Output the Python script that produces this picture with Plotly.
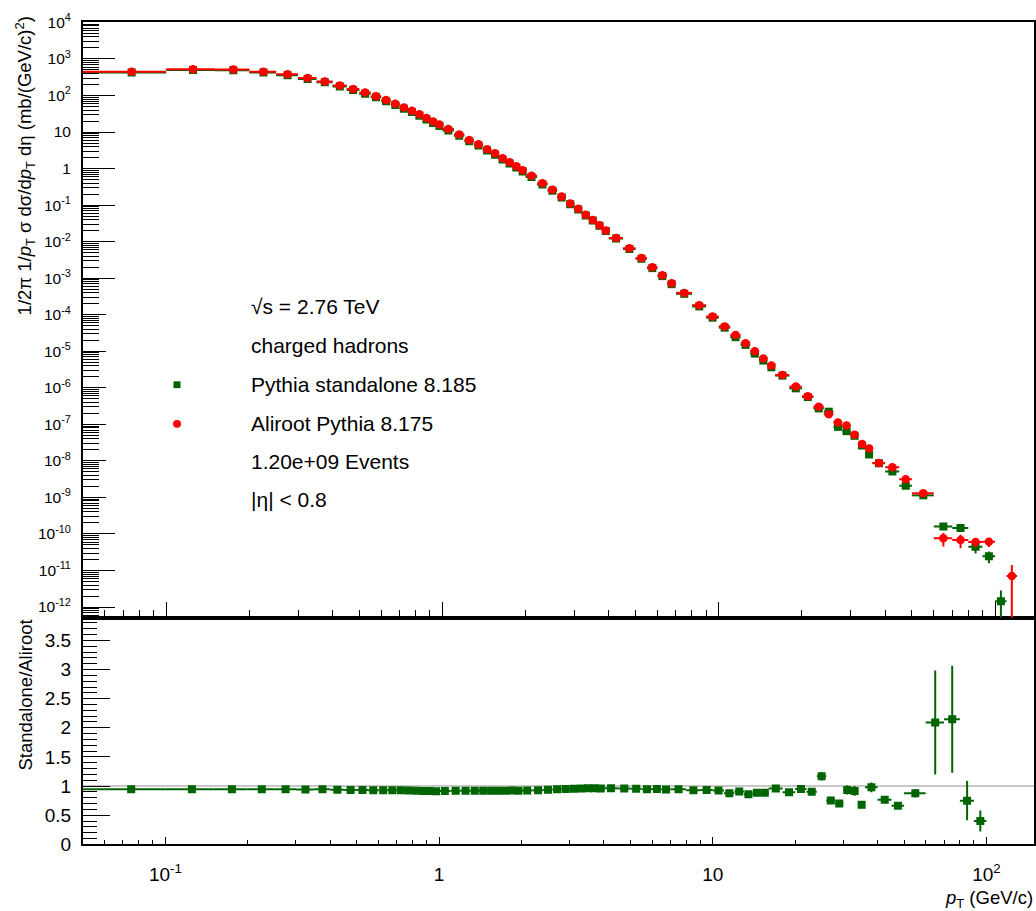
import math
import plotly.graph_objects as go

# ---------------- data ----------------
pt_edges = [0.05, 0.1, 0.15, 0.2, 0.25, 0.3, 0.35, 0.4, 0.45, 0.5, 0.55, 0.6, 0.65, 0.7, 0.75,
            0.8, 0.85, 0.9, 0.95, 1.0,
            1.1, 1.2, 1.3, 1.4, 1.5, 1.6, 1.7, 1.8, 1.9, 2.0,
            2.2, 2.4, 2.6, 2.8, 3.0, 3.2, 3.4, 3.6, 3.8, 4.0,
            4.5, 5.0, 5.5, 6.0, 6.5, 7.0, 8.0, 9.0, 10.0,
            11, 12, 13, 14, 15, 16, 18, 20, 22, 24, 26, 28, 30, 32, 34, 36, 40, 45, 50,
            60, 70, 80, 90, 100, 110, 120]

aliroot = [448, 525, 517, 448, 380, 302, 242, 189, 151, 120, 96, 75, 59, 47, 38, 30.5, 24.2, 19.4, 16.0,
           12.1, 8.55, 6.05, 4.62, 3.40, 2.61, 1.92, 1.50, 1.15, 0.90,
           0.634, 0.395, 0.264, 0.171, 0.111, 0.080, 0.0542, 0.0392, 0.0281, 0.0203,
           0.01264, 0.00658, 0.00356, 0.0020, 0.0012, 7.3e-4, 3.96e-4, 1.82e-4, 8.9e-5,
           4.8e-5, 2.77e-5, 1.65e-5, 1.0e-5, 6.3e-6, 4.1e-6, 2.25e-6, 1.08e-6, 5.86e-7, 3.03e-7,
           1.9e-7, 1.13e-7, 9.3e-8, 5.2e-8, 2.88e-8, 2.2e-8, 8.8e-9, 6.7e-9, 3.15e-9,
           1.3e-9, 7.6e-11, 6.8e-11, 6.0e-11, 6.1e-11, None, 7.1e-12]

standalone = [423, 496, 489, 423, 359, 285, 229, 177, 141, 112, 89.3, 69.8, 54.9, 43.7, 35.2, 28.1, 22.2, 17.8, 14.6,
              11.1, 7.87, 5.57, 4.26, 3.13, 2.40, 1.77, 1.38, 1.064, 0.830,
              0.586, 0.367, 0.248, 0.1616, 0.1055, 0.0764, 0.0520, 0.0377, 0.0271, 0.0195,
              0.01216, 0.00630, 0.00340, 0.00189, 0.00114, 6.86e-4, 3.74e-4, 1.69e-4, 8.31e-5,
              4.43e-5, 2.43e-5, 1.495e-5, 8.61e-6, 5.57e-6, 3.64e-6, 2.16e-6, 9.67e-7, 5.57e-7, 2.73e-7,
              2.22e-7, 8.53e-8, 6.51e-8, 4.86e-8, 2.64e-8, 1.50e-8, 8.62e-9, 5.13e-9, 2.09e-9,
              1.14e-9, 1.59e-10, 1.46e-10, 4.5e-11, 2.44e-11, 1.45e-12, None]

aliroot_relerr = [0.003] * 19 + [0.003] * 10 + [0.004] * 10 + \
                 [0.005, 0.006, 0.007, 0.008, 0.01, 0.012, 0.012, 0.015, 0.018] + \
                 [0.02, 0.022, 0.025, 0.028, 0.03, 0.032, 0.025, 0.03, 0.035, 0.04,
                  0.045, 0.05, 0.055, 0.06, 0.065, 0.065, 0.06, 0.05, 0.05] + \
                 [0.06, 0.4, 0.4, 0.28, 0.28, None, 0.999]

standalone_relerr = [0.003] * 19 + [0.003] * 10 + [0.004] * 10 + \
                    [0.005, 0.006, 0.007, 0.008, 0.01, 0.012, 0.012, 0.015, 0.018] + \
                    [0.02, 0.022, 0.025, 0.028, 0.03, 0.032, 0.025, 0.03, 0.035, 0.04,
                     0.045, 0.05, 0.055, 0.06, 0.065, 0.065, 0.06, 0.05, 0.05] + \
                    [0.06, 0.15, 0.15, 0.35, 0.35, 0.97, None]

y_top_ticks = [1e4, 1e3, 1e2, 10, 1, 1e-1, 1e-2, 1e-3, 1e-4, 1e-5, 1e-6, 1e-7, 1e-8, 1e-9, 1e-10, 1e-11, 1e-12]
y_top_labels = ["10<sup>4</sup>", "10<sup>3</sup>", "10<sup>2</sup>", "10", "1", "10<sup>-1</sup>",
                "10<sup>-2</sup>", "10<sup>-3</sup>", "10<sup>-4</sup>", "10<sup>-5</sup>", "10<sup>-6</sup>",
                "10<sup>-7</sup>", "10<sup>-8</sup>", "10<sup>-9</sup>", "10<sup>-10</sup>", "10<sup>-11</sup>",
                "10<sup>-12</sup>"]
x_ticks = [0.1, 1, 10, 100]
x_labels = ["10<sup>-1</sup>", "1", "10", "10<sup>2</sup>"]

# ---------------- derived ----------------
centers = [(lo + hi) / 2 for lo, hi in zip(pt_edges[:-1], pt_edges[1:])]
halfw = [(hi - lo) / 2 for lo, hi in zip(pt_edges[:-1], pt_edges[1:])]


def series(vals, rel):
    xs, ys, ex, ey = [], [], [], []
    for c, h, v, r in zip(centers, halfw, vals, rel):
        if v is None:
            continue
        xs.append(c); ys.append(v); ex.append(h); ey.append(v * r)
    return xs, ys, ex, ey


sx, sy, sex, sey = series(standalone, standalone_relerr)
ax_, ay, aex, aey = series(aliroot, aliroot_relerr)

rx, ry, rex, rey = [], [], [], []
for c, h, s, a, se, ae in zip(centers, halfw, standalone, aliroot, standalone_relerr, aliroot_relerr):
    if s is None or a is None:
        continue
    r = s / a
    rx.append(c); ry.append(r); rex.append(h); rey.append(r * math.sqrt(se ** 2 + ae ** 2))

GREEN = "#006400"
RED = "#ff0000"
FONT = "Liberation Sans, Arial, Helvetica, sans-serif"

W, H = 1036, 911
L, R = 83, 1034.3
T_top, T_mid, T_bot = 11.7, 621.7, 854.0

fig = go.Figure()

fig.add_trace(go.Scatter(
    x=sx, y=sy, mode="markers", xaxis="x2", yaxis="y2",
    marker=dict(symbol="square", size=8, color=GREEN),
    error_x=dict(type="data", array=sex, color=GREEN, thickness=2, width=0),
    error_y=dict(type="data", array=sey, color=GREEN, thickness=2, width=0),
    showlegend=False))
fig.add_trace(go.Scatter(
    x=ax_, y=ay, mode="markers", xaxis="x2", yaxis="y2",
    marker=dict(symbol="circle", size=8.5, color=RED),
    error_x=dict(type="data", array=aex, color=RED, thickness=2, width=0),
    error_y=dict(type="data", array=aey, color=RED, thickness=2, width=0),
    showlegend=False))
fig.add_trace(go.Scatter(
    x=rx, y=ry, mode="markers", xaxis="x", yaxis="y",
    marker=dict(symbol="square", size=8, color=GREEN),
    error_x=dict(type="data", array=rex, color=GREEN, thickness=2, width=0),
    error_y=dict(type="data", array=rey, color=GREEN, thickness=2, width=0),
    showlegend=False))

xdom = [L / W, R / W]
ydom_top = [1 - T_mid / H, 1 - T_top / H]
ydom_bot = [1 - T_bot / H, 1 - T_mid / H]

minor_log_x = [m * 10 ** k for k in range(-2, 3) for m in range(2, 10)]
minor_log_y = [m * 10.0 ** k for k in range(-13, 4) for m in range(2, 10)]

common_axis = dict(showgrid=False, zeroline=False, showline=True, linecolor="black", linewidth=2,
                   mirror=True, ticks="inside", tickcolor="black", tickwidth=1.3)

fig.update_layout(
    width=W, height=H, margin=dict(l=0, r=0, t=0, b=0),
    paper_bgcolor="white", plot_bgcolor="white",
    font=dict(family=FONT, color="black"),
    xaxis=dict(domain=xdom, anchor="y", type="log",
               range=[math.log10(0.05), 2.175],
               tickmode="array", tickvals=x_ticks, ticktext=x_labels, ticklen=7,
               tickfont=dict(size=19, family=FONT), ticklabelstandoff=12,
               minor=dict(tickvals=minor_log_x, ticklen=4, ticks="inside", tickcolor="black", tickwidth=1.3),
               **common_axis),
    yaxis=dict(domain=ydom_bot, anchor="x", range=[0, 3.89],
               tickmode="linear", tick0=0, dtick=0.5, ticklen=27,
               tickfont=dict(size=19, family=FONT), ticklabelstandoff=6,
               minor=dict(dtick=0.1, tick0=0, ticklen=14, ticks="inside", tickcolor="black", tickwidth=1.3),
               **common_axis),
    xaxis2=dict(domain=xdom, anchor="y2", type="log",
                range=[math.log10(0.05), 2.142],
                tickmode="array", tickvals=x_ticks, showticklabels=False, ticklen=16,
                minor=dict(tickvals=minor_log_x, ticklen=8, ticks="inside", tickcolor="black", tickwidth=1.3),
                **common_axis),
    yaxis2=dict(domain=ydom_top, anchor="x2", type="log",
                range=[-12.291, 4.0],
                tickmode="array", tickvals=y_top_ticks, ticktext=y_top_labels, ticklen=32,
                tickfont=dict(size=15.5, family=FONT), ticklabelstandoff=7,
                minor=dict(tickvals=minor_log_y, ticklen=16, ticks="inside", tickcolor="black", tickwidth=1.3),
                **common_axis),
)

# reference line at ratio = 1
fig.add_shape(type="line", xref="x domain", yref="y", x0=0, x1=1, y0=1, y1=1,
              line=dict(color="#c8c8c8", width=2), layer="below")

# white legend box (covers part of the long y ticks, as in the original)
fig.add_shape(type="rect", xref="paper", yref="paper",
              x0=106 / W, x1=520 / W, y0=1 - 525 / H, y1=1 - 285 / H,
              line=dict(width=0), fillcolor="white", layer="above")

# legend markers
fig.add_shape(type="rect", xref="paper", yref="paper",
              x0=173.5 / W, x1=180.5 / W, y0=1 - 386.5 / H, y1=1 - 379.5 / H,
              line=dict(width=0), fillcolor=GREEN, layer="above")
fig.add_shape(type="circle", xref="paper", yref="paper",
              x0=173 / W, x1=181 / W, y0=1 - 427 / H, y1=1 - 419 / H,
              line=dict(width=0), fillcolor=RED, layer="above")

legend_lines = ["√s = 2.76 TeV", "charged hadrons", "Pythia standalone 8.185",
                "Aliroot Pythia 8.175", "1.20e+09 Events", "|η| < 0.8"]
legend_y = [303, 343, 383, 423, 462, 501]
for txt, yy in zip(legend_lines, legend_y):
    fig.add_annotation(text=txt, xref="paper", yref="paper", x=249 / W, y=1 - yy / H,
                       xanchor="left", yanchor="middle", showarrow=False,
                       font=dict(size=21, family=FONT, color="black"))

# axis titles
fig.add_annotation(
    text="1/2π 1/<i>p</i><sub>T</sub> σ dσ/d<i>p</i><sub>T</sub> dη (mb/(GeV/c)<sup>2</sup>)",
    xref="paper", yref="paper", x=25 / W, y=1 - 4 / H, xanchor="center", yanchor="top",
    textangle=-90, showarrow=False, font=dict(size=18.5, family=FONT, color="black"))
fig.add_annotation(
    text="Standalone/Aliroot",
    xref="paper", yref="paper", x=25 / W, y=1 - 622 / H, xanchor="center", yanchor="top",
    textangle=-90, showarrow=False, font=dict(size=18.5, family=FONT, color="black"))
fig.add_annotation(
    text="<i>p</i><sub>T</sub> (GeV/c)",
    xref="paper", yref="paper", x=1035 / W, y=1 - 896 / H, xanchor="right", yanchor="top",
    showarrow=False, font=dict(size=18.5, family=FONT, color="black"))

fig.write_html("out.html")
